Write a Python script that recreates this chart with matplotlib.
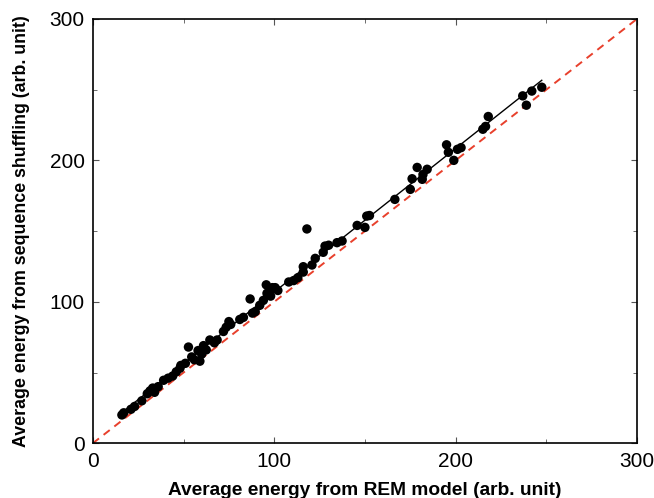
import numpy as np
import matplotlib
matplotlib.use("Agg")
import matplotlib.pyplot as plt
from matplotlib.ticker import MultipleLocator

rem_energy = [16, 17, 21, 23, 27, 30, 31.5, 33, 34, 36, 39, 41.5, 44, 46, 48, 48.5,
              51, 52.7, 54.5, 56, 58, 59, 60, 61, 62.5, 64.5, 67, 68.5, 72, 73.5,
              75, 76, 81, 83, 86.7, 88, 89.5, 92, 94, 95.6, 96, 98, 99, 100.5, 102,
              108, 110.7, 113, 116, 116, 118, 120.8, 122.6, 127, 128, 130, 134.6,
              137.4, 145.7, 150, 151, 152.5, 166.5, 175, 176, 178.8, 181.6, 184.3,
              182, 195, 196, 199, 201, 203, 215, 216.5, 218, 237, 239, 242, 247.5]
shuffle_energy = [20, 21.5, 24, 26, 30, 35, 37, 39, 36, 40, 44.5, 46, 47.5, 50.5, 53,
                  55, 56.5, 68, 61, 59, 65.5, 58, 63, 69, 66, 73, 71, 73, 79, 82,
                  86, 84, 87.5, 89, 102, 92, 93, 97.5, 101, 112, 106, 104, 110, 110,
                  108, 114, 115, 117, 121, 124.8, 151.5, 126, 130.7, 135, 139.4, 140,
                  141.8, 143, 154, 152.6, 160.6, 161, 172.4, 179.5, 187, 195, 186.6,
                  193.7, 190, 211, 205.7, 200, 207.8, 209, 222, 224, 231, 245.6, 239,
                  249, 251.7]
diag = [0, 300]

x = np.array(rem_energy)
y = np.array(shuffle_energy)

plt.rcParams['font.family'] = ['Liberation Sans', 'DejaVu Sans']

fig = plt.figure(figsize=(6.54, 4.98), dpi=100)
ax = fig.add_axes([0.142, 0.110, 0.832, 0.852])

ax.plot(diag, diag, linestyle=(0, (4, 3)), color='#e8402c', linewidth=1.4, zorder=1)
ax.scatter(x, y, s=46, color='black', edgecolors='none', zorder=3)
slope, icpt = np.polyfit(x, y, 1)
xf = np.array([x.min(), x.max()])
ax.plot(xf, slope * xf + icpt, color='black', linewidth=1.0, zorder=2)

ax.set_xlim(0, 300)
ax.set_ylim(0, 300)
ax.xaxis.set_major_locator(MultipleLocator(100))
ax.yaxis.set_major_locator(MultipleLocator(100))
ax.xaxis.set_minor_locator(MultipleLocator(50))
ax.yaxis.set_minor_locator(MultipleLocator(50))
ax.tick_params(which='both', direction='in', top=True, right=True, labelsize=15, pad=6, color='#555555')
ax.tick_params(which='major', length=4)
ax.tick_params(which='minor', length=3)
for s in ax.spines.values():
    s.set_linewidth(1.2)

ax.set_xlabel('Average energy from REM model (arb. unit)', fontsize=13.8, fontweight='bold', labelpad=8)
ax.set_ylabel('Average energy from sequence shuffling (arb. unit)', fontsize=12.8, fontweight='bold', labelpad=14)

fig.savefig('out.png', dpi=100)
